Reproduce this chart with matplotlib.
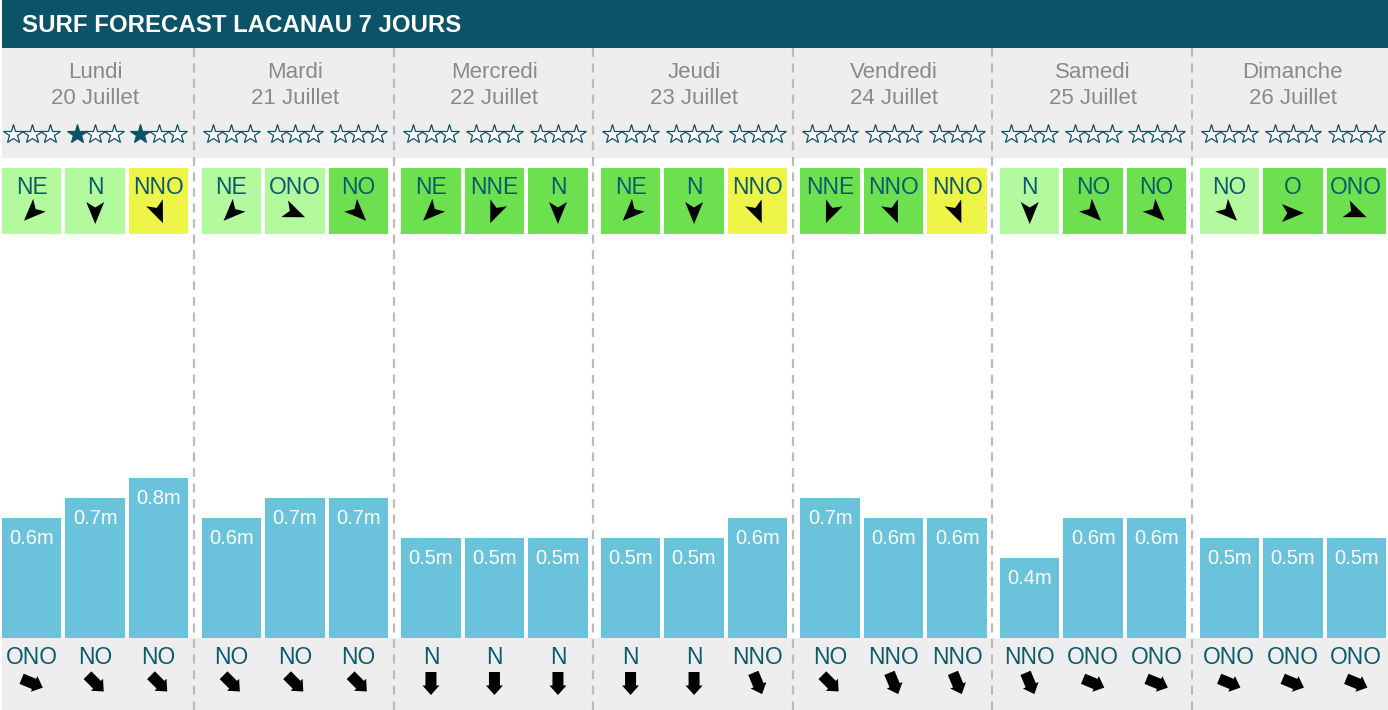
import numpy as np
import matplotlib
matplotlib.use('Agg')
import matplotlib.pyplot as plt
from matplotlib.patches import Rectangle, Polygon

plt.rcParams['font.family'] = ['Liberation Sans', 'DejaVu Sans']

title = 'SURF FORECAST LACANAU 7 JOURS'
days = ['Lundi', 'Mardi', 'Mercredi', 'Jeudi', 'Vendredi', 'Samedi', 'Dimanche']
dates = ['20 Juillet', '21 Juillet', '22 Juillet', '23 Juillet', '24 Juillet', '25 Juillet', '26 Juillet']

stars = [[0, 1, 1], [0, 0, 0], [0, 0, 0], [0, 0, 0], [0, 0, 0], [0, 0, 0], [0, 0, 0]]

wind_dir = [['NE', 'N', 'NNO'], ['NE', 'ONO', 'NO'], ['NE', 'NNE', 'N'], ['NE', 'N', 'NNO'],
            ['NNE', 'NNO', 'NNO'], ['N', 'NO', 'NO'], ['NO', 'O', 'ONO']]
# wind quality: 0 light green, 1 green, 2 yellow
wind_q = [[0, 0, 2], [0, 0, 1], [1, 1, 1], [1, 1, 2], [1, 1, 2], [0, 1, 1], [0, 1, 1]]

waves = [[0.6, 0.7, 0.8], [0.6, 0.7, 0.7], [0.5, 0.5, 0.5], [0.5, 0.5, 0.6],
         [0.7, 0.6, 0.6], [0.4, 0.6, 0.6], [0.5, 0.5, 0.5]]

swell_dir = [['ONO', 'NO', 'NO'], ['NO', 'NO', 'NO'], ['N', 'N', 'N'], ['N', 'N', 'NNO'],
             ['NO', 'NNO', 'NNO'], ['NNO', 'ONO', 'ONO'], ['ONO', 'ONO', 'ONO']]

compass = ['N', 'NNE', 'NE', 'ENE', 'E', 'ESE', 'SE', 'SSE',
           'S', 'SSO', 'SO', 'OSO', 'O', 'ONO', 'NO', 'NNO']

teal = '#0b5468'
text_teal = '#0d5a6c'
grey_bg = '#eeeeee'
bar_col = '#6ac3db'
wind_cols = ['#b3f99d', '#6ce04e', '#ecf548']

W, H = 1388, 710
fig = plt.figure(figsize=(W / 100, H / 100), dpi=100)
ax = fig.add_axes([0, 0, 1, 1])
ax.set_xlim(0, W)
ax.set_ylim(H, 0)
ax.axis('off')

left = 2
day_w = 199.6
pitch = 63.5
slot_w = 59.5
base = 638


def slot_center(d, s):
    return left + day_w * d + pitch * s + slot_w / 2


def rot(pts, bearing, cx, cy):
    # rotate clockwise on screen (y down) by bearing in degrees
    a = np.radians(bearing)
    out = []
    for px, py in pts:
        x = px * np.cos(a) - py * np.sin(a)
        y = px * np.sin(a) + py * np.cos(a)
        out.append((cx + x, cy + y))
    return out


# backgrounds
ax.add_patch(Rectangle((left, 0), W - left, 48, color=teal, lw=0))
ax.add_patch(Rectangle((left, 48), W - left, 110, color=grey_bg, lw=0))
ax.add_patch(Rectangle((left, base), W - left, H - base, color=grey_bg, lw=0))
ax.text(22, 26, title, color='white', fontsize=17.3, fontweight='bold', va='center', ha='left')

for k in range(1, 7):
    x = 194 + day_w * (k - 1)
    ax.plot([x, x], [48, H], color='#bbbbbb', lw=1.6, ls=(0, (4, 3)), zorder=1)

nav = [(0, -11), (9, 11), (0, 5.5), (-9, 11)]      # points north
block = [(0, 12), (8.5, 2.5), (5.5, 2.5), (5.5, -11), (-5.5, -11), (-5.5, 2.5), (-8.5, 2.5)]  # points south

for d in range(7):
    dc = (slot_center(d, 0) + slot_center(d, 2)) / 2
    ax.text(dc, 73, days[d], color='#8a8a8a', fontsize=16, ha='center', va='center')
    ax.text(dc, 99, dates[d], color='#8a8a8a', fontsize=16, ha='center', va='center')
    for s in range(3):
        cx = slot_center(d, s)
        for j in range(3):
            filled = j < stars[d][s]
            ax.plot(cx - 18.3 + 18.3 * j, 134, marker='*', ms=14.5, mew=0.9,
                    mec=teal, mfc=teal if filled else 'white')
        # wind box
        ax.add_patch(Rectangle((cx - slot_w / 2, 168), slot_w, 66, color=wind_cols[wind_q[d][s]], lw=0))
        ax.text(cx, 188, wind_dir[d][s], color=text_teal, fontsize=16.4, ha='center', va='center')
        b = compass.index(wind_dir[d][s]) * 22.5 + 180
        ax.add_patch(Polygon(rot(nav, b, cx, 213), color='black', lw=0))
        # swell
        ax.text(cx, 657, swell_dir[d][s], color=text_teal, fontsize=16.4, ha='center', va='center')
        b = compass.index(swell_dir[d][s]) * 22.5
        ax.add_patch(Polygon(rot(block, b, cx, 683), color='black', lw=0))

# wave bars on their own axes: 1 m = 200 px
bax = fig.add_axes([0, (H - base) / H, 1, 400 / H])
bax.set_xlim(0, W)
bax.set_ylim(0, 2.0)
bax.axis('off')
bax.patch.set_alpha(0)
xs = [slot_center(d, s) for d in range(7) for s in range(3)]
hs = [waves[d][s] for d in range(7) for s in range(3)]
bax.bar(xs, hs, width=slot_w, color=bar_col, lw=0)
for x, h in zip(xs, hs):
    bax.annotate(f'{h:.1f}m', (x, h), xytext=(0, -14.5), textcoords='offset points',
                 ha='center', va='center', color='white', fontsize=14.5)

fig.savefig('out.png', dpi=100)
